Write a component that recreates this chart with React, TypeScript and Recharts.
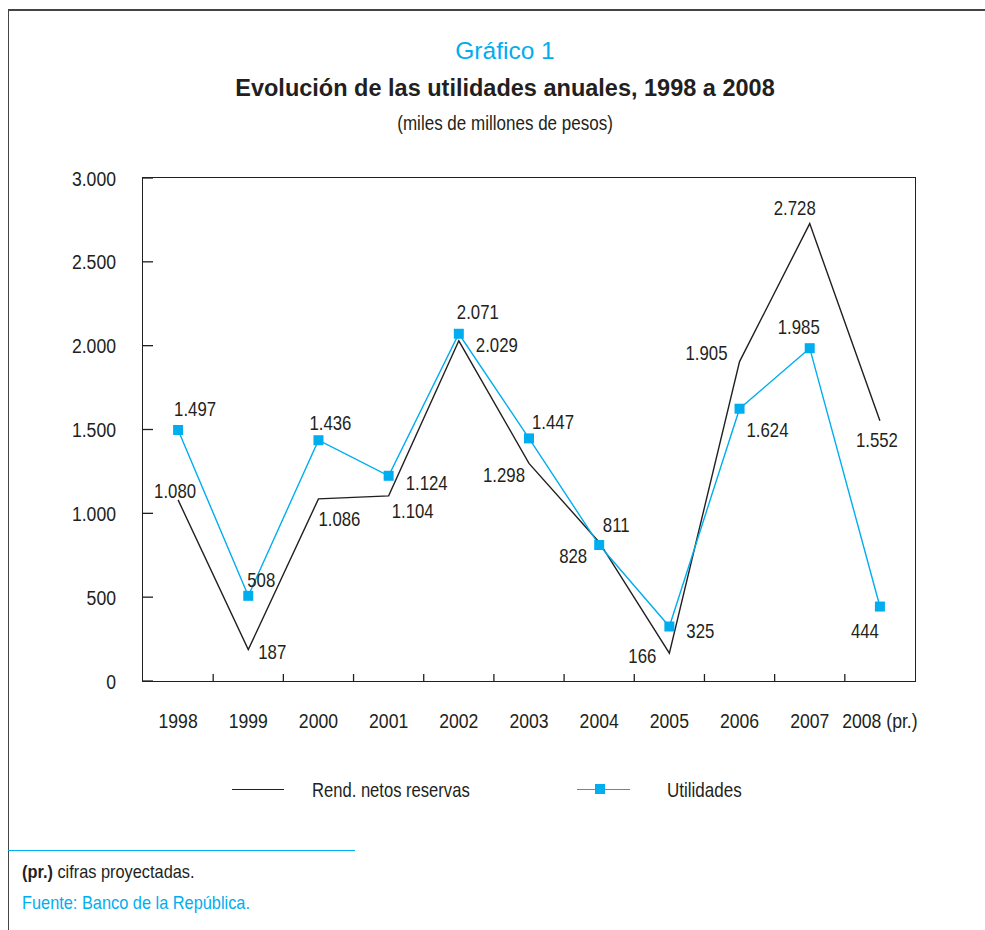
import { LineChart, Line, XAxis, YAxis, LabelList } from "recharts";

const years = ["1998", "1999", "2000", "2001", "2002", "2003", "2004", "2005", "2006", "2007", "2008 (pr.)"];
const rendNetos = [1080, 187, 1086, 1104, 2029, 1298, 828, 166, 1905, 2728, 1552];
const utilidades = [1497, 508, 1436, 1224, 2071, 1447, 811, 325, 1624, 1985, 444];
const rendLabels = ["1.080", "187", "1.086", "1.104", "2.029", "1.298", "828", "166", "1.905", "2.728", "1.552"];
const utilLabels = ["1.497", "508", "1.436", "1.124", "2.071", "1.447", "811", "325", "1.624", "1.985", "444"];
const yTicks = [0, 500, 1000, 1500, 2000, 2500, 3000];

// label offsets from each point (dx, dy of label centre)
const rendLabelPos = [[-3, -9], [24, 2], [21, 20], [24, 15], [38, 4], [-25, 12], [-26, 14], [-27, 3], [-33, -9], [-15, -16], [-3, 19]];
const utilLabelPos = [[17, -21], [13, -16], [12, -17], [38, 7], [19, -22], [24, -16], [17, -20], [31, 4], [28, 21], [-11, -21], [-15, 24]];

const CYAN = "#00aeef";
const INK = "#231f20";
const FONT = '"Liberation Sans", Arial, sans-serif';
const SX = 0.84; // fake a condensed face

const PL = 143; // plot left
const PR = 915;
const PT = 178;
const PB = 681;
const BAND = (PR - PL) / years.length;

const data = years.map((y, i) => ({
  x: i + 0.5,
  year: y,
  rend: rendNetos[i],
  util: utilidades[i],
}));

const fmt = (v: number) => (v >= 1000 ? `${Math.floor(v / 1000)}.${String(v % 1000).padStart(3, "0")}` : `${v}`);

const Narrow = ({ x, y, anchor = "middle", size = 21, fill = INK, children }: any) => (
  <text
    transform={`translate(${x} ${y}) scale(${SX} 1)`}
    textAnchor={anchor}
    dominantBaseline="central"
    fontSize={size}
    fontFamily={FONT}
    fill={fill}
  >
    {children}
  </text>
);

const XTick = ({ x, payload }: any) => {
  const i = Math.round(payload.value - 0.5);
  const lx = x - BAND / 2;
  return (
    <g>
      {i > 0 && <line x1={lx} x2={lx} y1={PB} y2={PB - 7} stroke={INK} strokeWidth={1.3} />}
      <Narrow x={x} y={720}>{years[i]}</Narrow>
    </g>
  );
};

const YTick = ({ y, payload }: any) => (
  <g>
    <line x1={PL} x2={PL + 10} y1={y} y2={y} stroke={INK} strokeWidth={1.3} />
    <Narrow x={116} y={y} anchor="end">{fmt(payload.value)}</Narrow>
  </g>
);

const makeLabel = (texts: string[], pos: number[][]) => (p: any) => {
  const i = p.index;
  if (i == null || !pos[i]) return null;
  return (
    <Narrow x={p.x + pos[i][0]} y={p.y + pos[i][1]} size={20}>
      {texts[i]}
    </Narrow>
  );
};

const SquareDot = ({ cx, cy }: any) => <rect x={cx - 5} y={cy - 5} width={10} height={10} fill={CYAN} />;

const squeeze = (origin: string, k = 0.87) => ({
  display: "inline-block",
  transform: `scaleX(${k})`,
  transformOrigin: origin,
  whiteSpace: "nowrap" as const,
});

export default function App() {
  return (
    <div style={{ position: "relative", width: 985, height: 930, background: "#fff", overflow: "hidden", fontFamily: FONT }}>
      <style>{`body{margin:0}`}</style>
      {/* frame */}
      <div style={{ position: "absolute", left: 8, top: 9, width: 977, height: 1.5, background: "#444" }} />
      <div style={{ position: "absolute", left: 7.5, top: 9, width: 1.5, height: 921, background: "#444" }} />

      {/* titles */}
      <div style={{ position: "absolute", left: 0, width: 1010, top: 37, textAlign: "center", fontSize: 24.5, color: CYAN }}>
        Gráfico 1
      </div>
      <div style={{ position: "absolute", left: 0, width: 1010, top: 75, textAlign: "center", fontSize: 23.5, fontWeight: 700, color: INK }}>
        Evolución de las utilidades anuales, 1998 a 2008
      </div>
      <div style={{ position: "absolute", left: 0, width: 1010, top: 111, textAlign: "center", fontSize: 21, color: INK }}>
        <span style={squeeze("center", 0.81)}>(miles de millones de pesos)</span>
      </div>

      <div style={{ position: "absolute", left: 0, top: 0 }}>
        <LineChart width={985} height={760} data={data} margin={{ top: PT, right: 985 - PR, bottom: 29, left: PL - 60 }}>
          <XAxis
            dataKey="x"
            type="number"
            domain={[0, years.length]}
            ticks={data.map((d) => d.x)}
            interval={0}
            tickLine={false}
            axisLine={false}
            tick={<XTick />}
            height={50}
          />
          <YAxis
            type="number"
            domain={[0, 3000]}
            ticks={yTicks}
            interval={0}
            tickLine={false}
            axisLine={false}
            tick={<YTick />}
            width={60}
          />
          <Line dataKey="rend" stroke={INK} strokeWidth={1.4} dot={false} activeDot={false} isAnimationActive={false}>
            <LabelList dataKey="rend" content={makeLabel(rendLabels, rendLabelPos)} />
          </Line>
          <Line dataKey="util" stroke={CYAN} strokeWidth={1.4} dot={<SquareDot />} activeDot={false} isAnimationActive={false}>
            <LabelList dataKey="util" content={makeLabel(utilLabels, utilLabelPos)} />
          </Line>
        </LineChart>
      </div>

      {/* plot box */}
      <div style={{ position: "absolute", left: PL - 0.7, top: PT - 0.7, width: PR - PL, height: PB - PT, border: `1.4px solid ${INK}`, pointerEvents: "none", boxSizing: "content-box" }} />

      {/* legend */}
      <div style={{ position: "absolute", left: 232, top: 788.5, width: 52, height: 1.4, background: INK }} />
      <div style={{ position: "absolute", left: 312, top: 778, fontSize: 21, color: INK }}>
        <span style={squeeze("left", 0.79)}>Rend. netos reservas</span>
      </div>
      <div style={{ position: "absolute", left: 577, top: 788.5, width: 53, height: 1.4, background: CYAN }} />
      <div style={{ position: "absolute", left: 595, top: 784, width: 10, height: 10, background: CYAN }} />
      <div style={{ position: "absolute", left: 667, top: 778, fontSize: 21, color: INK }}>
        <span style={squeeze("left", 0.81)}>Utilidades</span>
      </div>

      {/* footer */}
      <div style={{ position: "absolute", left: 8, top: 849.5, width: 347, height: 1.5, background: CYAN }} />
      <div style={{ position: "absolute", left: 22, top: 861, fontSize: 19, color: INK }}>
        <span style={squeeze("left", 0.86)}>
          <b>(pr.)</b> cifras proyectadas.
        </span>
      </div>
      <div style={{ position: "absolute", left: 22, top: 892, fontSize: 19, color: CYAN }}>
        <span style={squeeze("left", 0.86)}>Fuente: Banco de la República.</span>
      </div>
    </div>
  );
}
